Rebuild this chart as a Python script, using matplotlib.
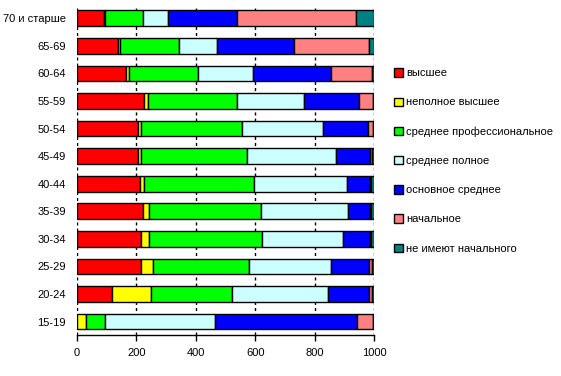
import matplotlib
matplotlib.use("Agg")
import matplotlib.pyplot as plt
import numpy as np

plt.rcParams['font.family'] = ['Liberation Sans', 'DejaVu Sans']

categories = ["70 и старше", "65-69", "60-64", "55-59", "50-54", "45-49",
              "40-44", "35-39", "30-34", "25-29", "20-24", "15-19"]
series_names = ["высшее", "неполное высшее", "среднее профессиональное",
                "среднее полное", "основное среднее", "начальное",
                "не имеют начального"]
vysshee      = [90, 138, 166, 225, 206, 206, 212, 222, 217, 217, 118, 0]
nepolnoe     = [3, 8, 8, 14, 11, 11, 15, 22, 27, 39, 130, 31]
sred_prof    = [129, 198, 235, 298, 338, 355, 370, 377, 378, 322, 273, 62]
sred_poln    = [85, 126, 182, 227, 272, 299, 311, 291, 274, 276, 325, 370]
osnovnoe     = [230, 260, 264, 185, 153, 116, 79, 75, 91, 130, 136, 480]
nachalnoe    = [401, 252, 137, 47, 16, 6, 3, 3, 3, 8, 12, 53]
ne_imeyut    = [62, 18, 8, 4, 4, 7, 10, 10, 10, 8, 6, 4]
xticks = [0, 200, 400, 600, 800, 1000]

series = [vysshee, nepolnoe, sred_prof, sred_poln, osnovnoe, nachalnoe, ne_imeyut]
colors = ["#FF0000", "#FFFF00", "#00FF00", "#CCFFFF", "#0000FF", "#FF8080", "#008080"]

fig = plt.figure(figsize=(5.61, 3.76), dpi=100)
ax = fig.add_axes([0.137, 0.108, 0.530, 0.880])

y = np.arange(len(categories))
left = np.zeros(len(categories))
handles = []
for name, vals, c in zip(series_names, series, colors):
    vals = np.array(vals, dtype=float)
    h = ax.barh(y, vals, left=left, height=0.57, color=c, edgecolor="black",
                linewidth=1.0, label=name, zorder=3)
    handles.append(h)
    left += vals

ax.set_ylim(len(categories) - 0.5, -0.5)
ax.set_xlim(0, 1000)
ax.set_xticks(xticks)
ax.set_xticklabels([str(t) for t in xticks], fontsize=8)
ax.set_yticks(y)
ax.set_yticklabels(categories, fontsize=8)
ax.tick_params(axis='y', length=0, pad=8)
ax.tick_params(axis='x', direction='out', length=4, width=1, color='black', pad=5)
for s in ['top', 'right', 'left']:
    ax.spines[s].set_visible(False)
ax.spines['bottom'].set_linewidth(1.0)
ax.xaxis.grid(True, linestyle=(0, (2.2, 2.2)), color='black', linewidth=1.0, zorder=0)
ax.set_axisbelow(True)

leg = fig.legend(handles=handles, labels=series_names, loc='upper left',
                 bbox_to_anchor=(0.695, 0.830), frameon=False, fontsize=8,
                 handlelength=0.75, handleheight=0.75, handletextpad=0.3,
                 labelspacing=1.72, borderaxespad=0)
for p in leg.get_patches():
    p.set_edgecolor('black')
    p.set_linewidth(1.0)

fig.savefig("out.png", dpi=100)
